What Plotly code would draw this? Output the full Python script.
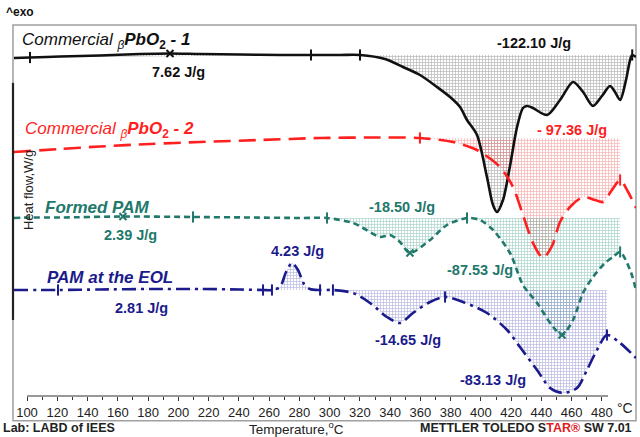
import plotly.graph_objects as go

# ---- DSC curves: temperature (°C) and heat flow (offset, W/g, exo up) ----
black_T = [91.4, 102.0, 121.8, 148.2, 174.7, 194.5, 214.3, 240.8, 267.2, 287.7, 306.9,
           320.1, 336.6, 348.5, 359.7, 371.0, 379.6, 386.2, 390.8, 397.4, 404.0, 408.0,
           410.6, 414.6, 419.1, 423.9, 427.8, 430.5, 434.4, 443.7, 452.3, 460.9, 467.5,
           474.1, 480.0, 485.3, 488.6, 492.0, 495.9, 498.6, 500.0, 502.5]
black_hf = [34.2, 34.25, 34.35, 34.45, 34.6, 34.65, 34.6, 34.55, 34.5, 34.5, 34.5,
            34.5, 34.1, 33.3, 32.5, 31.3, 30.3, 29.3, 28.0, 26.5, 22.3, 19.5,
            18.8, 20.0, 23.3, 27.3, 29.2, 29.4, 29.2, 28.5, 30.0, 31.8, 30.8,
            29.4, 30.4, 31.4, 30.8, 30.0, 32.0, 34.0, 34.5, 34.3]

red_T = [91.4, 121.8, 148.2, 181.3, 214.3, 254.0, 293.7, 333.3, 359.7, 381.6, 397.4,
         412.6, 421.2, 427.8, 434.4, 441.0, 447.0, 452.3, 458.9, 467.5, 475.4, 480.7,
         486.6, 492.0, 497.3, 502.5]
red_hf = [24.8, 25.1, 25.35, 25.6, 25.8, 26.0, 26.2, 26.25, 26.2, 25.8, 25.0,
          23.3, 21.3, 18.5, 15.7, 14.2, 15.4, 17.8, 19.3, 20.3, 20.0, 19.8,
          21.0, 22.0, 20.8, 19.2]

teal_T = [91.4, 102.0, 121.8, 163.4, 209.7, 247.4, 280.4, 298.3, 315.5, 322.1, 333.3,
          339.9, 346.5, 353.1, 366.4, 377.6, 390.8, 399.4, 408.0, 419.2, 427.8, 437.1,
          447.7, 453.6, 460.9, 467.5, 474.1, 482.0, 487.3, 492.0, 498.6, 502.5]
teal_hf = [18.2, 18.25, 18.25, 18.35, 18.3, 18.25, 18.2, 18.2, 17.7, 17.2, 16.3,
           16.5, 15.8, 14.7, 16.0, 17.5, 18.2, 18.0, 17.0, 14.7, 11.5, 9.7,
           7.3, 6.5, 8.0, 10.7, 12.3, 13.7, 14.3, 14.8, 13.0, 11.0]

navy_T = [91.4, 120.5, 148.2, 181.3, 214.3, 240.8, 256.0, 261.9, 267.2, 271.2, 275.1,
          279.1, 283.1, 287.0, 293.7, 302.2, 315.5, 326.7, 337.9, 346.5, 355.1, 366.4,
          376.3, 388.2, 404.0, 417.3, 425.8, 437.1, 445.7, 454.3, 463.5, 470.1, 476.7,
          483.3, 492.0, 502.5]
navy_hf = [11.0, 11.0, 11.05, 11.1, 11.1, 11.05, 11.0, 11.0, 11.3, 12.8, 13.7,
           13.0, 11.6, 11.1, 11.0, 11.0, 10.7, 9.7, 8.3, 7.7, 8.7, 9.8,
           10.3, 9.8, 8.7, 7.0, 5.3, 3.0, 1.2, 0.7, 1.2, 3.0, 5.0,
           6.5, 5.7, 4.2]

# integration regions: (start °C, end °C, baseline start, baseline end)
black_regions = [(102.0, 287.7, 34.25, 34.5), (320.1, 500.0, 34.5, 34.5)]
red_regions = [(359.7, 492.0, 26.2, 26.2)]
teal_regions = [(102.0, 209.7, 18.25, 18.3), (298.3, 390.8, 18.2, 18.2), (390.8, 492.0, 18.2, 18.2)]
navy_regions = [(120.5, 256.0, 11.0, 11.0), (261.9, 287.0, 11.0, 11.0),
                (302.2, 376.3, 11.0, 11.0), (376.3, 483.3, 11.0, 11.0)]

# evaluation limits (vertical ticks) and peak marks (crosses)
black_limits, black_peaks = [102.0, 287.7, 320.1, 500.0], [194.5]
red_limits, red_peaks = [359.7, 492.0], []
teal_limits, teal_peaks = [209.7, 298.3, 390.8, 492.0], [163.4, 353.1, 453.6]
navy_limits, navy_peaks = [120.5, 256.0, 261.9, 293.7, 302.2, 376.3, 483.3], []

# enthalpy labels: (text, °C, heat flow)
black_labels = [("7.62 J/g", 199.8, 32.8), ("-122.10 J/g", 435.1, 35.7)]
red_labels = [("- 97.36 J/g", 460.2, 27.0)]
teal_labels = [("2.39 J/g", 168.1, 16.5), ("-18.50 J/g", 347.9, 19.3), ("-87.53 J/g", 399.4, 13.0)]
navy_labels = [("4.23 J/g", 279.1, 14.9), ("2.81 J/g", 176.0, 9.2),
               ("-14.65 J/g", 351.8, 6.0), ("-83.13 J/g", 408.0, 2.0)]

x_ticks = list(range(100, 481, 20))

BLACK, RED, TEAL, NAVY = "#111111", "#ff1f1f", "#21786b", "#1b1b8c"

series = [
    dict(T=black_T, hf=black_hf, color=BLACK, dash="solid", fill="#7c7c7c", solidity=0.45,
         regions=black_regions, limits=black_limits, peaks=black_peaks, labels=black_labels,
         name="<i>Commercial </i><sub><i>β</i></sub><b><i>PbO</i></b><sub><b>2</b></sub><b><i> - 1</i></b>",
         name_pos=(95.5, 35.9)),
    dict(T=red_T, hf=red_hf, color=RED, dash="17px,8px", fill="#f06a6a", solidity=0.42,
         regions=red_regions, limits=red_limits, peaks=red_peaks, labels=red_labels,
         name="<i>Commercial </i><sub><i>β</i></sub><b><i>PbO</i></b><sub><b>2</b></sub><b><i> - 2</i></b>",
         name_pos=(97.5, 27.0)),
    dict(T=teal_T, hf=teal_hf, color=TEAL, dash="6px,4px", fill="#5aa99d", solidity=0.42,
         regions=teal_regions, limits=teal_limits, peaks=teal_peaks, labels=teal_labels,
         name="<b><i>Formed PAM</i></b>", name_pos=(110.6, 19.3)),
    dict(T=navy_T, hf=navy_hf, color=NAVY, dash="14px,5px,3px,5px", fill="#7a7ac8", solidity=0.42,
         regions=navy_regions, limits=navy_limits, peaks=navy_peaks, labels=navy_labels,
         name="<b><i>PAM at the EOL</i></b>", name_pos=(111.9, 12.3)),
]


def segment(T, hf, t0, t1):
    pts = [(t, h) for t, h in zip(T, hf) if t0 - 1e-6 <= t <= t1 + 1e-6]
    return [p[0] for p in pts], [p[1] for p in pts]


def value_at(T, hf, t):
    return hf[T.index(t)]


fig = go.Figure()

# hatched integration areas between baseline and curve
for s in series:
    for t0, t1, b0, b1 in s["regions"]:
        fig.add_trace(go.Scatter(x=[t0, t1], y=[b0, b1], mode="lines",
                                 line=dict(width=0, color="rgba(0,0,0,0)"),
                                 hoverinfo="skip", showlegend=False))
        sx, sy = segment(s["T"], s["hf"], t0, t1)
        fig.add_trace(go.Scatter(x=sx, y=sy, mode="lines", fill="tonexty",
                                 line=dict(width=0, color="rgba(0,0,0,0)", shape="spline", smoothing=0.8),
                                 fillcolor="rgba(255,255,255,0)",
                                 fillpattern=dict(shape="+", size=3, solidity=s["solidity"],
                                                  fgcolor=s["fill"], bgcolor="rgba(255,255,255,0)"),
                                 hoverinfo="skip", showlegend=False))

# the curves themselves
for s in series:
    fig.add_trace(go.Scatter(x=s["T"], y=s["hf"], mode="lines",
                             line=dict(color=s["color"], width=2.6, dash=s["dash"],
                                       shape="spline", smoothing=0.8),
                             hoverinfo="skip", showlegend=False))
    lx = s["limits"]
    fig.add_trace(go.Scatter(x=lx, y=[value_at(s["T"], s["hf"], t) for t in lx], mode="markers",
                             marker=dict(symbol="line-ns", size=8, line=dict(width=2, color=s["color"])),
                             hoverinfo="skip", showlegend=False))
    if s["peaks"]:
        px = s["peaks"]
        fig.add_trace(go.Scatter(x=px, y=[value_at(s["T"], s["hf"], t) for t in px], mode="markers",
                                 marker=dict(symbol="x-thin", size=7, line=dict(width=2, color=s["color"])),
                                 hoverinfo="skip", showlegend=False))

LABEL_FONT = "Liberation Sans, Arial, sans-serif"

for s in series:
    fig.add_annotation(x=s["name_pos"][0], y=s["name_pos"][1], text=s["name"], showarrow=False,
                       xanchor="left", yanchor="middle",
                       font=dict(family=LABEL_FONT, size=17, color=s["color"]))
    for txt, tx, ty in s["labels"]:
        fig.add_annotation(x=tx, y=ty, text=f"<b>{txt}</b>", showarrow=False,
                           xanchor="center", yanchor="middle",
                           font=dict(family=LABEL_FONT, size=14.5, color=s["color"]))

# frame, axis line and the heat-flow scale bar
fig.add_shape(type="rect", xref="paper", yref="paper", x0=0, x1=1, y0=-0.067, y1=1,
              line=dict(color="#a0a0a0", width=1.5), layer="below")
fig.add_shape(type="line", xref="x", yref="paper", x0=100, x1=484, y0=0, y1=0,
              line=dict(color="#333333", width=1.2))
fig.add_shape(type="line", xref="paper", yref="paper", x0=0, x1=0, y0=0.205, y1=0.844,
              line=dict(color="#222222", width=2.2))

fig.add_annotation(xref="paper", yref="paper", x=-0.014, y=1.035, text="<b>^exo</b>",
                   showarrow=False, xanchor="left", yanchor="middle",
                   font=dict(family=LABEL_FONT, size=12, color="#111"))
fig.add_annotation(xref="paper", yref="paper", x=0.024, y=0.555, text="Heat flow,W/g",
                   showarrow=False, textangle=-90, xanchor="center", yanchor="middle",
                   font=dict(family=LABEL_FONT, size=13, color="#222"))
fig.add_annotation(xref="paper", yref="paper", x=0.983, y=-0.033, text="°C",
                   showarrow=False, xanchor="center", yanchor="middle",
                   font=dict(family=LABEL_FONT, size=14, color="#222"))
fig.add_annotation(xref="paper", yref="paper", x=-0.02, y=-0.087, text="<b>Lab: LABD of IEES</b>",
                   showarrow=False, xanchor="left", yanchor="middle",
                   font=dict(family=LABEL_FONT, size=12.5, color="#222"))
fig.add_annotation(xref="paper", yref="paper", x=0.455, y=-0.087, text="Temperature,<sup>o</sup>C",
                   showarrow=False, xanchor="center", yanchor="middle",
                   font=dict(family=LABEL_FONT, size=13.5, color="#222"))
fig.add_annotation(xref="paper", yref="paper", x=0.997, y=-0.086,
                   text="<b>METTLER TOLEDO S<span style='color:#e02020'>TAR</span>"
                        "<span style='color:#e02020'>®</span> SW 7.01</b>",
                   showarrow=False, xanchor="right", yanchor="middle",
                   font=dict(family=LABEL_FONT, size=12.5, color="#222"))

fig.update_layout(
    width=640, height=437,
    margin=dict(l=13, r=4, t=25, b=41),
    paper_bgcolor="white", plot_bgcolor="white",
    showlegend=False, hovermode=False,
    xaxis=dict(range=[90.75, 502.5], tickvals=x_ticks, ticks="outside", ticklen=4,
               tickcolor="#333", tickwidth=1, showgrid=False, zeroline=False, showline=False,
               tickfont=dict(family=LABEL_FONT, size=13, color="#222"),
               minor=dict(tickvals=list(range(110, 471, 20)), ticks="outside", ticklen=3,
                          tickcolor="#333")),
    yaxis=dict(range=[0.4, 37.5], visible=False),
)

fig.write_html("out.html")
